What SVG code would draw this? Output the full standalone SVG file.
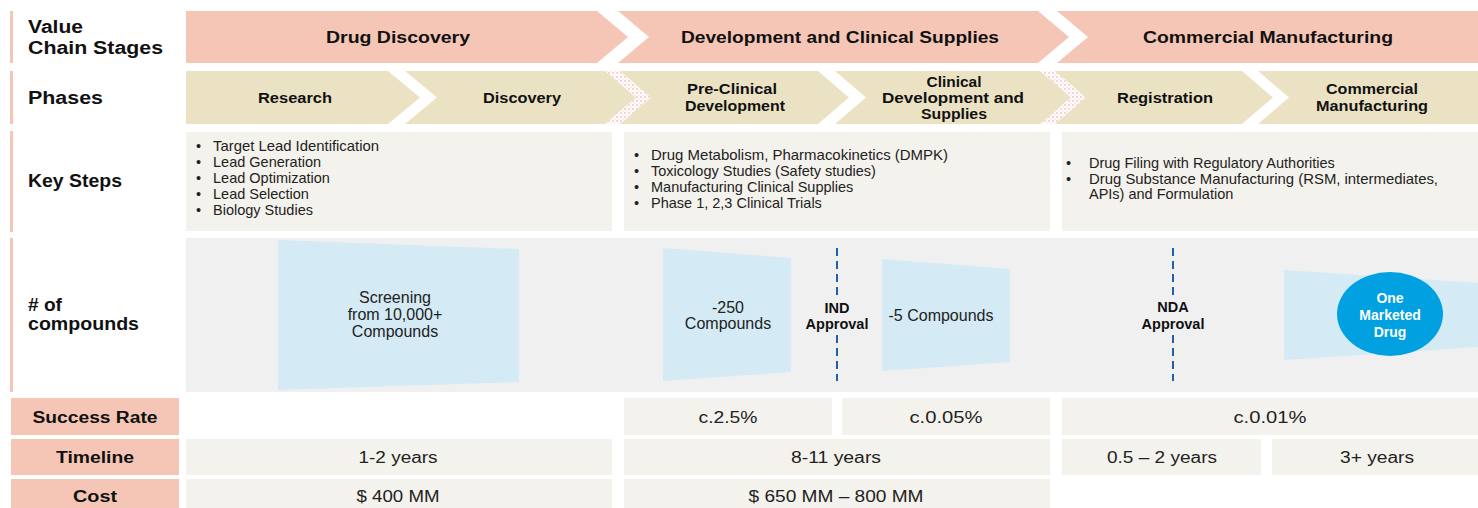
<svg xmlns="http://www.w3.org/2000/svg" width="1478" height="508" viewBox="0 0 1478 508">
<style>
text{font-family:"Liberation Sans",Arial,sans-serif;fill:#111}
.lbl{font-size:18px;font-weight:bold}
.h1{font-size:16px;font-weight:bold;text-anchor:middle}
.h2{font-size:14px;font-weight:bold;text-anchor:middle}
.bl{font-size:14.5px;fill:#222}
.c{font-size:16px;text-anchor:middle;fill:#222}
.cb{font-size:14.5px;font-weight:bold;text-anchor:middle}
.v{font-size:16px;text-anchor:middle;fill:#222}
.vb{font-size:16px;font-weight:bold;text-anchor:middle}
.w{font-size:14px;font-weight:bold;text-anchor:middle;fill:#fff}
.stage{fill:#f5c6b6}
.phase{fill:#ebe2c4}
.box{fill:#f4f2ec}
.bar{fill:#f5c6b6}
.trap{fill:#d4eaf4}
.dash{stroke:#1e60aa;stroke-width:2;stroke-dasharray:8 5;fill:none}
</style>
<defs>
<pattern id="dots" width="4" height="4" patternUnits="userSpaceOnUse">
<rect width="4" height="4" fill="#fff"/>
<circle cx="1" cy="1" r="0.7" fill="#e98a7a"/>
<circle cx="3" cy="3" r="0.5" fill="#f0b0a4"/>
</pattern>
</defs>
<rect width="1478" height="508" fill="#fff"/>

<g id="labels">
<rect class="bar" x="10" y="11" width="3" height="52"/>
<rect class="bar" x="10" y="71" width="3" height="53"/>
<rect class="bar" x="10" y="131" width="3" height="101"/>
<rect class="bar" x="10" y="238" width="3" height="154"/>
<text class="lbl" x="28" y="33" textLength="55" lengthAdjust="spacingAndGlyphs">Value</text>
<text class="lbl" x="28" y="54" textLength="135" lengthAdjust="spacingAndGlyphs">Chain Stages</text>
<text class="lbl" x="28" y="104" textLength="75" lengthAdjust="spacingAndGlyphs">Phases</text>
<text class="lbl" x="28" y="187" textLength="94" lengthAdjust="spacingAndGlyphs">Key Steps</text>
<text class="lbl" x="28" y="311" textLength="34" lengthAdjust="spacingAndGlyphs"># of</text>
<text class="lbl" x="28" y="330" textLength="111" lengthAdjust="spacingAndGlyphs">compounds</text>
</g>

<g id="stage-drug-discovery">
<polygon class="stage" points="186,11 597,11 628,37 597,63 186,63"/>
<text class="h1" x="398" y="43" textLength="144" lengthAdjust="spacingAndGlyphs">Drug Discovery</text>
</g>
<g id="stage-development">
<polygon class="stage" points="618,11 1038,11 1069,37 1038,63 618,63 649,37"/>
<text class="h1" x="840" y="43" textLength="318" lengthAdjust="spacingAndGlyphs">Development and Clinical Supplies</text>
</g>
<g id="stage-commercial">
<polygon class="stage" points="1057,11 1478,11 1478,63 1057,63 1088,37"/>
<text class="h1" x="1268" y="43" textLength="250" lengthAdjust="spacingAndGlyphs">Commercial Manufacturing</text>
</g>

<g id="phase-gaps">
<polygon fill="url(#dots)" points="605,71 620,71 651,97.5 620,124 605,124 636,97.5"/>
<polygon fill="url(#dots)" points="1040,71 1055,71 1086,97.5 1055,124 1040,124 1071,97.5"/>
</g>
<g id="phase-research">
<polygon class="phase" points="186,71 388,71 420,97.5 388,124 186,124"/>
<text class="h2" x="295" y="103" textLength="74" lengthAdjust="spacingAndGlyphs">Research</text>
</g>
<g id="phase-discovery">
<polygon class="phase" points="405,71 605,71 636,97.5 605,124 405,124 437,97.5"/>
<text class="h2" x="522" y="103" textLength="78" lengthAdjust="spacingAndGlyphs">Discovery</text>
</g>
<g id="phase-preclinical">
<polygon class="phase" points="620,71 818,71 849,97.5 818,124 620,124 651,97.5"/>
<text class="h2" x="732" y="94" textLength="90" lengthAdjust="spacingAndGlyphs">Pre-Clinical</text>
<text class="h2" x="735" y="111" textLength="100" lengthAdjust="spacingAndGlyphs">Development</text>
</g>
<g id="phase-clinical">
<polygon class="phase" points="835,71 1040,71 1071,97.5 1040,124 835,124 866,97.5"/>
<text class="h2" x="954" y="87" textLength="55" lengthAdjust="spacingAndGlyphs">Clinical</text>
<text class="h2" x="953" y="103" textLength="142" lengthAdjust="spacingAndGlyphs">Development  and</text>
<text class="h2" x="954" y="119" textLength="66" lengthAdjust="spacingAndGlyphs">Supplies</text>
</g>
<g id="phase-registration">
<polygon class="phase" points="1055,71 1242,71 1273,97.5 1242,124 1055,124 1086,97.5"/>
<text class="h2" x="1165" y="103" textLength="96" lengthAdjust="spacingAndGlyphs">Registration</text>
</g>
<g id="phase-commercial">
<polygon class="phase" points="1258,71 1478,71 1478,124 1258,124 1289,97.5"/>
<text class="h2" x="1372" y="94" textLength="92" lengthAdjust="spacingAndGlyphs">Commercial</text>
<text class="h2" x="1372" y="111" textLength="112" lengthAdjust="spacingAndGlyphs">Manufacturing</text>
</g>

<g id="steps-discovery">
<rect class="box" x="186" y="132" width="426" height="99"/>
<text class="bl" x="196" y="151">•</text><text class="bl" x="213" y="151" textLength="166" lengthAdjust="spacingAndGlyphs">Target Lead Identification</text>
<text class="bl" x="196" y="167">•</text><text class="bl" x="213" y="167">Lead Generation</text>
<text class="bl" x="196" y="183">•</text><text class="bl" x="213" y="183">Lead Optimization</text>
<text class="bl" x="196" y="199">•</text><text class="bl" x="213" y="199">Lead Selection</text>
<text class="bl" x="196" y="215">•</text><text class="bl" x="213" y="215">Biology Studies</text>
</g>
<g id="steps-development">
<rect class="box" x="624" y="132" width="426" height="99"/>
<text class="bl" x="634" y="160">•</text><text class="bl" x="651" y="160" textLength="297" lengthAdjust="spacingAndGlyphs">Drug Metabolism, Pharmacokinetics (DMPK)</text>
<text class="bl" x="634" y="176">•</text><text class="bl" x="651" y="176">Toxicology Studies (Safety studies)</text>
<text class="bl" x="634" y="192">•</text><text class="bl" x="651" y="192">Manufacturing  Clinical Supplies</text>
<text class="bl" x="634" y="208">•</text><text class="bl" x="651" y="208">Phase 1, 2,3 Clinical Trials</text>
</g>
<g id="steps-commercial">
<rect class="box" x="1062" y="132" width="416" height="99"/>
<text class="bl" x="1066" y="168">•</text><text class="bl" x="1089" y="168">Drug Filing with Regulatory Authorities</text>
<text class="bl" x="1066" y="184">•</text><text class="bl" x="1089" y="184" textLength="349" lengthAdjust="spacingAndGlyphs">Drug Substance Manufacturing (RSM, intermediates,</text>
<text class="bl" x="1089" y="199">APIs) and Formulation</text>
</g>

<rect id="compounds-area" x="186" y="238" width="1292" height="154" fill="#f0f0f0"/>
<g id="trap-screening">
<polygon class="trap" points="278,240 519,249 519,382 278,390"/>
<text class="c" x="395" y="303">Screening</text>
<text class="c" x="395" y="320">from 10,000+</text>
<text class="c" x="395" y="337">Compounds</text>
</g>
<g id="trap-250">
<polygon class="trap" points="663,248 791,258 791,372 663,381"/>
<text class="c" x="728" y="313">-250</text>
<text class="c" x="728" y="329">Compounds</text>
</g>
<g id="ind-approval">
<text class="cb" x="837" y="313">IND</text>
<text class="cb" x="837" y="329">Approval</text>
</g>
<g id="trap-5">
<polygon class="trap" points="882,259 1010,269 1010,362 882,371"/>
<text class="c" x="941" y="321">-5 Compounds</text>
</g>
<g id="nda-approval">
<text class="cb" x="1173" y="312">NDA</text>
<text class="cb" x="1173" y="329">Approval</text>
</g>
<g id="marketed-drug">
<polygon class="trap" points="1284,270 1478,283 1478,347 1284,360"/>
<ellipse cx="1390" cy="314" rx="53" ry="42" fill="#00a0e1"/>
<text class="w" x="1390" y="303">One</text>
<text class="w" x="1390" y="320">Marketed</text>
<text class="w" x="1390" y="337">Drug</text>
</g>

<g id="connectors">
<line class="dash" x1="837" y1="248" x2="837" y2="295"/>
<line class="dash" x1="837" y1="335" x2="837" y2="381"/>
<line class="dash" x1="1173" y1="248" x2="1173" y2="295"/>
<line class="dash" x1="1173" y1="335" x2="1173" y2="381"/>
</g>

<g id="row-success">
<rect class="bar" x="11" y="398" width="168" height="37"/>
<text class="vb" x="95" y="423" textLength="125" lengthAdjust="spacingAndGlyphs">Success Rate</text>
<rect class="box" x="624" y="398" width="208" height="37"/>
<text class="v" x="728" y="423" textLength="59" lengthAdjust="spacingAndGlyphs">c.2.5%</text>
<rect class="box" x="842" y="398" width="208" height="37"/>
<text class="v" x="946" y="423" textLength="73" lengthAdjust="spacingAndGlyphs">c.0.05%</text>
<rect class="box" x="1062" y="398" width="416" height="37"/>
<text class="v" x="1270" y="423" textLength="73" lengthAdjust="spacingAndGlyphs">c.0.01%</text>
</g>
<g id="row-timeline">
<rect class="bar" x="11" y="439" width="168" height="36"/>
<text class="vb" x="95" y="463" textLength="78" lengthAdjust="spacingAndGlyphs">Timeline</text>
<rect class="box" x="186" y="439" width="426" height="36"/>
<text class="v" x="398" y="463" textLength="79" lengthAdjust="spacingAndGlyphs">1-2 years</text>
<rect class="box" x="624" y="439" width="426" height="36"/>
<text class="v" x="836" y="463" textLength="90" lengthAdjust="spacingAndGlyphs">8-11 years</text>
<rect class="box" x="1062" y="439" width="199" height="36"/>
<text class="v" x="1162" y="463" textLength="110" lengthAdjust="spacingAndGlyphs">0.5 – 2 years</text>
<rect class="box" x="1272" y="439" width="206" height="36"/>
<text class="v" x="1377" y="463" textLength="74" lengthAdjust="spacingAndGlyphs">3+ years</text>
</g>
<g id="row-cost">
<rect class="bar" x="11" y="479" width="168" height="29"/>
<text class="vb" x="95" y="502" textLength="44" lengthAdjust="spacingAndGlyphs">Cost</text>
<rect class="box" x="186" y="479" width="426" height="29"/>
<text class="v" x="398" y="502" textLength="83" lengthAdjust="spacingAndGlyphs">$ 400 MM</text>
<rect class="box" x="624" y="479" width="426" height="29"/>
<text class="v" x="836" y="502" textLength="175" lengthAdjust="spacingAndGlyphs">$ 650 MM  – 800 MM</text>
</g>
</svg>
